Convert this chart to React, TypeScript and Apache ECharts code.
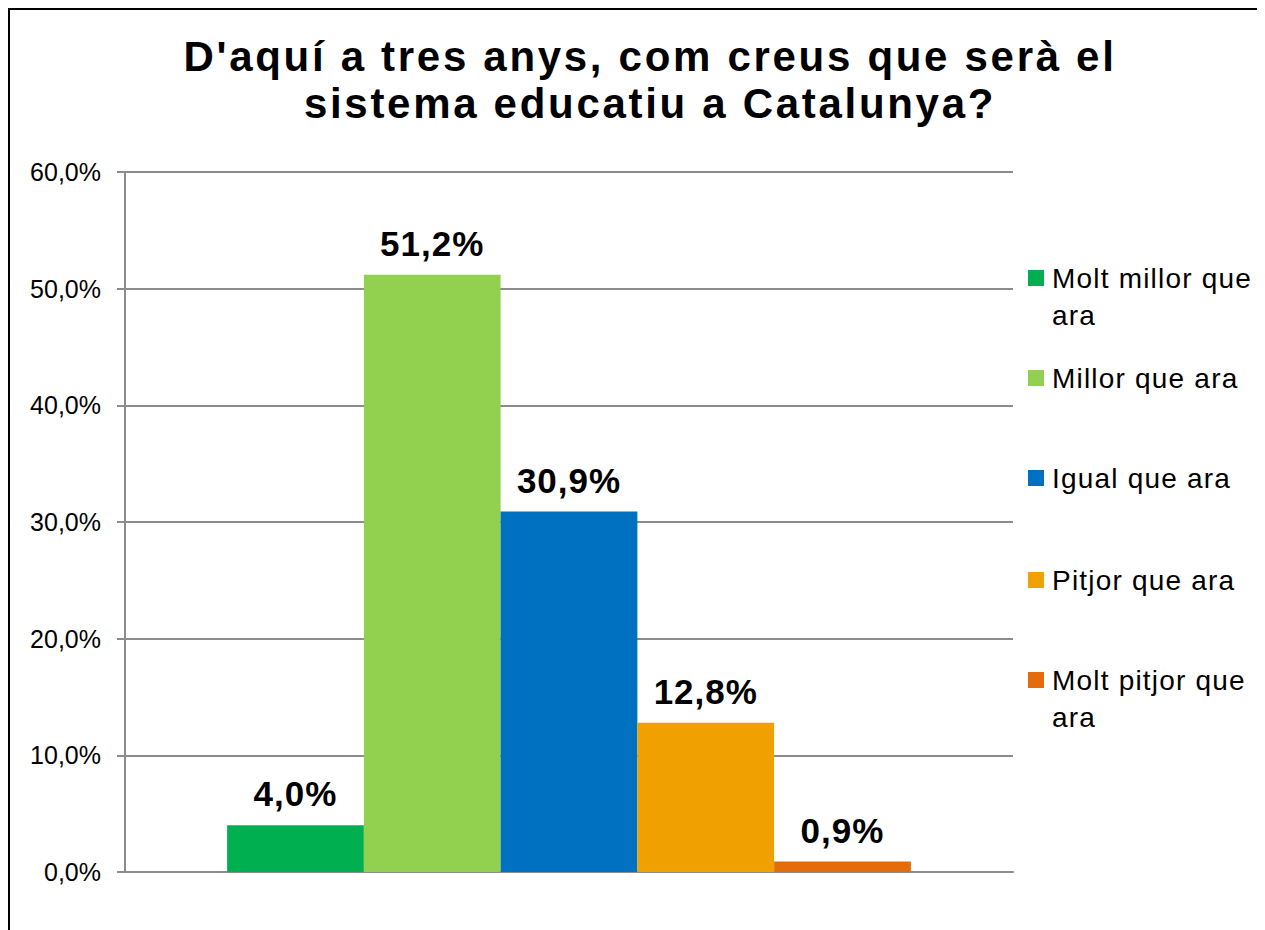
import React, { useEffect, useRef } from "react";
import * as echarts from "echarts";

const categories = [""];
const seriesNames = [
  "Molt millor que ara",
  "Millor que ara",
  "Igual que ara",
  "Pitjor que ara",
  "Molt pitjor que ara",
];
const legendLabels = [
  "\nMolt millor que\nara",
  "Millor que ara",
  "Igual que ara",
  "Pitjor que ara",
  "\nMolt pitjor que\nara",
];
const values = [4.0, 51.2, 30.9, 12.8, 0.9];
const colors = ["#00B050", "#92D050", "#0070C0", "#F0A000", "#E46C0A"];
const legendCenters = [268, 368, 468, 570, 670];

const fmt = (v: number) => v.toFixed(1).replace(".", ",") + "%";
const FONT = "Arial, 'Liberation Sans', sans-serif";

const css = `
.ec-wrap text[style*="42px"]{letter-spacing:2.7px}
.ec-wrap text[style*="28px"]{letter-spacing:1.2px}
.ec-wrap text[style*="35px"]{letter-spacing:1px}
`;

export default function App() {
  const ref = useRef<HTMLDivElement>(null);
  useEffect(() => {
    if (!ref.current) return;
    const prevOverflow = document.body.style.overflow;
    document.body.style.overflow = "hidden";
    const chart = echarts.init(ref.current, null, { renderer: "svg" });
    const LH = 37;
    chart.setOption({
      animation: false,
      backgroundColor: "#ffffff",
      textStyle: { fontFamily: FONT },
      title: {
        text: "D'aquí a tres anys, com creus que serà el\nsistema educatiu a Catalunya?",
        left: 635,
        textAlign: "center",
        top: 18,
        textStyle: {
          fontFamily: FONT,
          fontSize: 42,
          fontWeight: "bold",
          color: "#000",
          lineHeight: 47,
        },
      },
      legend: seriesNames.map((n, i) => {
        const twoLine = legendLabels[i].startsWith("\n");
        return {
          data: [{ name: n }],
          orient: "vertical",
          left: 1018,
          top: twoLine ? legendCenters[i] - 55.5 : legendCenters[i] - 18.5,
          padding: 0,
          itemWidth: 16,
          itemHeight: 16,
          icon: "rect",
          selectedMode: false,
          formatter: () => legendLabels[i],
          textStyle: {
            fontFamily: FONT,
            fontSize: 28,
            color: "#000",
            lineHeight: LH,
            padding: [0, 0, 0, 3],
          },
        };
      }),
      grid: { left: 115, right: 252, top: 162, bottom: 58, containLabel: false },
      xAxis: {
        type: "category",
        data: categories,
        axisLine: { show: true, lineStyle: { color: "#8c8c8c", width: 2 } },
        axisTick: { show: false },
        axisLabel: { show: false },
      },
      yAxis: {
        type: "value",
        min: 0,
        max: 60,
        interval: 10,
        axisLine: { show: true, lineStyle: { color: "#8c8c8c", width: 2 } },
        axisTick: { show: true, length: 8, lineStyle: { color: "#8c8c8c", width: 2 } },
        splitLine: { show: true, lineStyle: { color: "#8c8c8c", width: 2 } },
        axisLabel: {
          formatter: (v: number) => fmt(v),
          fontFamily: FONT,
          fontSize: 25,
          color: "#000",
          margin: 24,
        },
      },
      series: seriesNames.map((n, i) => ({
        name: n,
        type: "bar",
        data: [values[i]],
        barGap: "0%",
        barCategoryGap: "23%",
        itemStyle: { color: colors[i] },
        label: {
          show: true,
          position: "top",
          distance: 14,
          formatter: (p: any) => fmt(p.value),
          fontFamily: FONT,
          fontSize: 35,
          fontWeight: "bold",
          color: "#000",
        },
      })),
    });
    return () => {
      chart.dispose();
      document.body.style.overflow = prevOverflow;
    };
  }, []);
  return (
    <>
      <style>{css}</style>
      <div
        className="ec-wrap"
        ref={ref}
        style={{
          width: 1255,
          height: 920,
          borderLeft: "2px solid #000",
          borderTop: "2px solid #000",
        }}
      />
    </>
  );
}
